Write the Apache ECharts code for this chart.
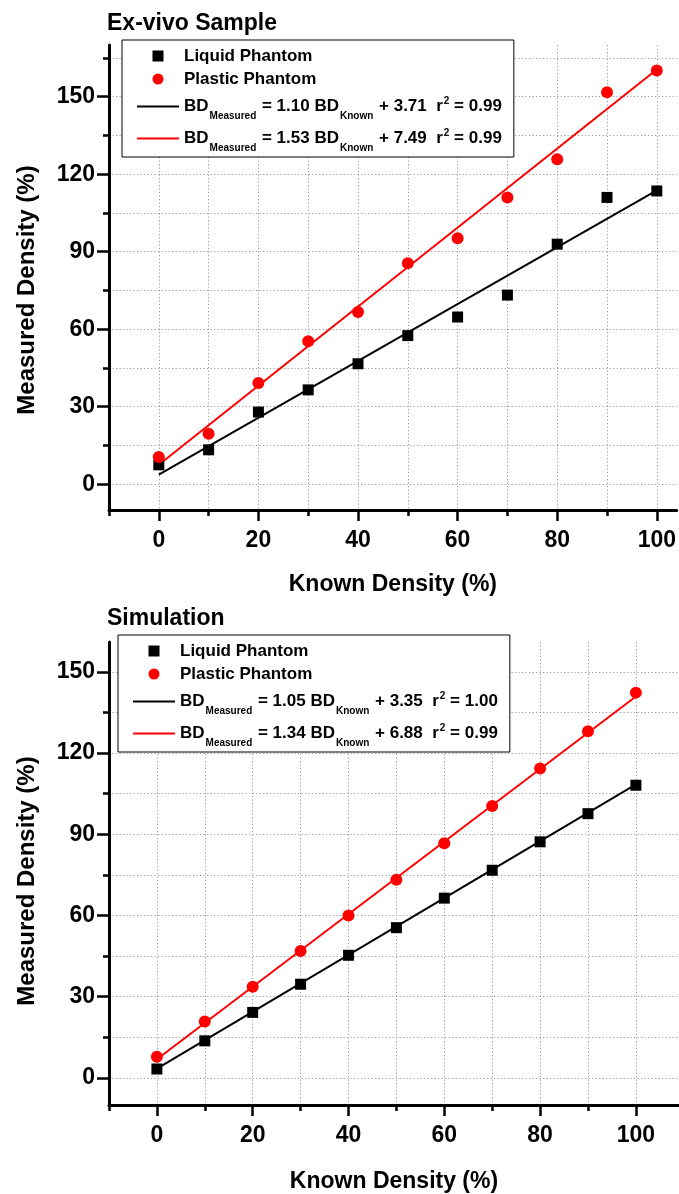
<!DOCTYPE html>
<html><head><meta charset="utf-8">
<script src="https://cdn.jsdelivr.net/npm/echarts@6/dist/echarts.min.js"></script>
<style>html,body{margin:0;padding:0;background:#fff}#c{width:679px;height:1194px}</style>
</head><body><div id="c"></div>
<script>
// ---- data ----
const knownDensity = [0, 10, 20, 30, 40, 50, 60, 70, 80, 90, 100];
const exvivoLiquid = [7.5, 13.3, 27.9, 36.5, 46.6, 57.5, 64.7, 73.2, 92.9, 111.0, 113.5];
const exvivoPlastic = [10.5, 19.5, 39.2, 55.3, 66.6, 85.5, 95.2, 111.0, 125.8, 151.7, 160.1];
const simLiquid = [3.3, 13.7, 24.2, 34.6, 45.3, 55.5, 66.4, 76.7, 87.2, 97.6, 108.1];
const simPlastic = [7.8, 20.8, 33.7, 46.9, 60.0, 73.2, 86.7, 100.4, 114.3, 128.0, 142.3];
const fitX = [0, 100];
const exvivoLiquidFit = [3.7, 113.7];
const exvivoPlasticFit = [7.5, 160.5];
const simLiquidFit = [3.4, 108.4];
const simPlasticFit = [6.9, 140.9];
const exvivoEquations = [['1.10', '3.71', '0.99'], ['1.53', '7.49', '0.99']];
const simEquations = [['1.05', '3.35', '1.00'], ['1.34', '6.88', '0.99']];
const xMajorTicks = [0, 20, 40, 60, 80, 100];
const xMinorTicks = [-10, 10, 30, 50, 70, 90];
const yMajorTicks = [0, 30, 60, 90, 120, 150];
const yMinorTicks = [15, 45, 75, 105, 135, 165];
const panelTitles = ['Ex-vivo Sample', 'Simulation'];
const seriesNames = ['Liquid Phantom', 'Plastic Phantom'];
const xTitle = 'Known Density (%)';
const yTitle = 'Measured Density (%)';

// ---- build ----
const FONT = '"Liberation Sans", Arial, Helvetica, sans-serif';
const RED = '#ff0000', BLACK = '#000000';
const eqName = (e) => 'BD_Measured = ' + e[0] + ' BD_Known + ' + e[1] + '  r^2 = ' + e[2];
const richMap = {};
function registerEq(e) {
  richMap[eqName(e)] = '{m|BD}{s|Measured}{m| = ' + e[0] + ' BD}{s|Known}{m| + ' + e[1] + '  r}{p|2}{m| = ' + e[2] + '}';
}
exvivoEquations.forEach(registerEq);
simEquations.forEach(registerEq);

const richStyles = {
  t: {fontSize: 17, fontWeight: 'bold', fontFamily: FONT, color: BLACK, lineHeight: 17, padding: [1.5, 0, 1.5, 0]},
  m: {fontSize: 17, fontWeight: 'bold', fontFamily: FONT, color: BLACK, lineHeight: 29, verticalAlign: 'middle'},
  s: {fontSize: 10, fontWeight: 'bold', fontFamily: FONT, color: BLACK, lineHeight: 10, padding: [0, 1, 0, 1], verticalAlign: 'bottom'},
  p: {fontSize: 10, fontWeight: 'bold', fontFamily: FONT, color: BLACK, lineHeight: 10, padding: [4, 0, 0, 1], verticalAlign: 'top'}
};

const panels = [
  {title: panelTitles[0], liquid: exvivoLiquid, plastic: exvivoPlastic, lf: exvivoLiquidFit, pf: exvivoPlasticFit, eq: exvivoEquations,
   grid: {left: 109, top: 45, right: 0, height: 465}, xMax: 104, yMax: 170, titleTop: 12, legendTop: 40, legendLeft: 122,
   nameGap: 63, yNamePad: 25},
  {title: panelTitles[1], liquid: simLiquid, plastic: simPlastic, lf: simLiquidFit, pf: simPlasticFit, eq: simEquations,
   grid: {left: 109, top: 642, right: 0, height: 465}, xMax: 109, yMax: 161, titleTop: 607, legendTop: 635, legendLeft: 118,
   nameGap: 65, yNamePad: 15}
];

const option = {animation: false, backgroundColor: '#fff', title: [], grid: [], xAxis: [], yAxis: [], legend: [], series: []};
const gridLine = {show: true, lineStyle: {color: '#9a9a9a', type: [1.2, 2.3], width: 1}};
const labelStyle = {fontSize: 23, fontWeight: 'bold', fontFamily: FONT, color: BLACK};
const lineIcon = 'path://M0,0 H40 V2 H0 Z';
const squareIcon = 'path://M0,0 H10 V10 H0 Z';

panels.forEach((p, i) => {
  option.title.push({text: p.title, left: 107, top: p.titleTop, padding: 0,
    textStyle: {fontSize: 23, fontWeight: 'bold', fontFamily: FONT, color: BLACK}});
  option.grid.push(p.grid);
  const xi = option.xAxis.length, yi = option.yAxis.length;
  option.xAxis.push({
    gridIndex: i, type: 'value', min: -10, max: p.xMax, position: 'bottom',
    axisLine: {show: true, onZero: false, lineStyle: {color: BLACK, width: 3}},
    axisTick: {show: true, customValues: xMajorTicks, length: 11, lineStyle: {color: BLACK, width: 2.5}},
    axisLabel: {customValues: xMajorTicks, margin: 19, ...labelStyle},
    splitLine: gridLine,
    name: xTitle, nameLocation: 'middle', nameGap: p.nameGap,
    nameTextStyle: {fontSize: 23, fontWeight: 'bold', fontFamily: FONT, color: BLACK}
  });
  option.xAxis.push({
    gridIndex: i, type: 'value', min: -10, max: p.xMax, position: 'bottom',
    axisLine: {show: false, onZero: false},
    axisTick: {show: true, customValues: xMinorTicks, length: 6, lineStyle: {color: BLACK, width: 2.5}},
    axisLabel: {show: false}, splitLine: gridLine
  });
  option.yAxis.push({
    gridIndex: i, type: 'value', min: -10, max: p.yMax, position: 'left',
    axisLine: {show: true, onZero: false, lineStyle: {color: BLACK, width: 3}},
    axisTick: {show: true, customValues: yMajorTicks, length: 12, lineStyle: {color: BLACK, width: 2.5}},
    axisLabel: {customValues: yMajorTicks, margin: 14, ...labelStyle},
    splitLine: gridLine,
    name: yTitle, nameLocation: 'middle', nameGap: 70,
    nameTextStyle: {fontSize: 24, fontWeight: 'bold', fontFamily: FONT, color: BLACK, padding: [0, p.yNamePad, 0, 0]}
  });
  option.yAxis.push({
    gridIndex: i, type: 'value', min: -10, max: p.yMax, position: 'left',
    axisLine: {show: false, onZero: false},
    axisTick: {show: true, customValues: yMinorTicks, length: 6, lineStyle: {color: BLACK, width: 2.5}},
    axisLabel: {show: false}, splitLine: gridLine
  });
  const n1 = eqName(p.eq[0]), n2 = eqName(p.eq[1]);
  option.series.push(
    {name: n1, type: 'line', xAxisIndex: xi, yAxisIndex: yi, symbol: 'none', z: 2,
     itemStyle: {color: BLACK}, lineStyle: {color: BLACK, width: 2}, data: fitX.map((x, k) => [x, p.lf[k]])},
    {name: n2, type: 'line', xAxisIndex: xi, yAxisIndex: yi, symbol: 'none', z: 2,
     itemStyle: {color: RED}, lineStyle: {color: RED, width: 2}, data: fitX.map((x, k) => [x, p.pf[k]])},
    {name: seriesNames[0], type: 'scatter', xAxisIndex: xi, yAxisIndex: yi, symbol: 'rect', symbolSize: 11, z: 3,
     itemStyle: {color: BLACK, opacity: 1}, data: knownDensity.map((x, k) => [x, p.liquid[k]])},
    {name: seriesNames[1], type: 'scatter', xAxisIndex: xi, yAxisIndex: yi, symbol: 'circle', symbolSize: 12, z: 3,
     itemStyle: {color: RED, opacity: 1}, data: knownDensity.map((x, k) => [x, p.plastic[k]])}
  );
  option.legend.push({
    orient: 'vertical', left: p.legendLeft, top: p.legendTop, padding: [6, 12, 4, 15], itemGap: 3,
    itemWidth: 42, itemHeight: 11, borderColor: BLACK, borderWidth: 1, backgroundColor: '#fff',
    selectedMode: false, symbolKeepAspect: true,
    data: [
      {name: seriesNames[0], icon: squareIcon},
      {name: seriesNames[1], icon: 'circle'},
      {name: n1, icon: lineIcon},
      {name: n2, icon: lineIcon}
    ],
    formatter: (name) => richMap[name] ? richMap[name] : '{t|' + name + '}',
    textStyle: {fontSize: 17, fontWeight: 'bold', fontFamily: FONT, color: BLACK, rich: richStyles}
  });
});

const chart = echarts.init(document.getElementById('c'), null, {renderer: 'canvas'});
chart.setOption(option);
</script></body></html>
